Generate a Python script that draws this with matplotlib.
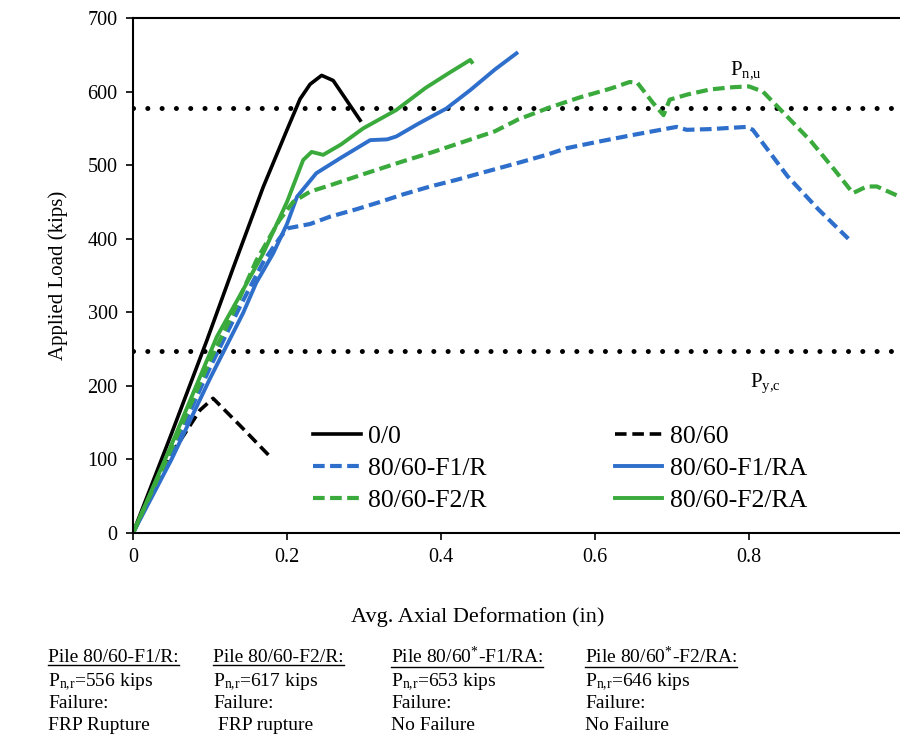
import matplotlib
matplotlib.use('Agg')
import matplotlib.pyplot as plt
from matplotlib.lines import Line2D

plt.rcParams['font.family'] = ['Liberation Serif', 'DejaVu Serif']
plt.rcParams['mathtext.fontset'] = 'custom'
plt.rcParams['mathtext.rm'] = 'Liberation Serif'
plt.rcParams['mathtext.it'] = 'Liberation Serif:italic'

# data (deformation in inches, load in kips)
ctrl_x = [0, 0.05, 0.096, 0.13, 0.169, 0.2, 0.217, 0.23, 0.245, 0.26, 0.295]
ctrl_y = [0, 135, 262, 360, 470, 548, 590, 610, 622, 615, 561]

p8060_x = [0, 0.048, 0.087, 0.104, 0.14, 0.176]
p8060_y = [0, 104, 167, 183, 145, 106]

f1r_x = [0, 0.05, 0.1, 0.14, 0.17, 0.19, 0.2, 0.23, 0.256, 0.29, 0.321, 0.35, 0.386, 0.42,
         0.451, 0.5, 0.537, 0.563, 0.6, 0.649, 0.68, 0.706, 0.719, 0.75, 0.797, 0.805,
         0.85, 0.89, 0.929]
f1r_y = [0, 110, 225, 310, 370, 400, 414, 420, 430, 440, 450, 460, 471, 480,
         489, 503, 514, 523, 531, 541, 547, 552, 548, 549, 552, 548,
         485, 440, 400]

f1ra_x = [0, 0.05, 0.1, 0.143, 0.16, 0.182, 0.2, 0.213, 0.238, 0.27, 0.308, 0.33, 0.342,
          0.37, 0.407, 0.438, 0.47, 0.498]
f1ra_y = [0, 100, 210, 299, 340, 380, 420, 457, 489, 510, 534, 535, 539,
          556, 577, 602, 630, 652]

f2r_x = [0, 0.05, 0.1, 0.126, 0.16, 0.19, 0.208, 0.23, 0.26, 0.3, 0.35, 0.39, 0.43, 0.47,
         0.5, 0.54, 0.58, 0.62, 0.645, 0.655, 0.675, 0.689, 0.697, 0.72, 0.75, 0.78, 0.8,
         0.818, 0.845, 0.88, 0.91, 0.935, 0.953, 0.966, 0.996]
f2r_y = [0, 115, 235, 290, 370, 425, 450, 464, 474, 488, 505, 518, 532, 546,
         562, 578, 592, 604, 613, 612, 585, 568, 589, 596, 603, 606, 607,
         600, 571, 533, 495, 462, 471, 471, 457]

f2ra_x = [0, 0.05, 0.109, 0.14, 0.169, 0.2, 0.221, 0.232, 0.247, 0.27, 0.299, 0.342, 0.38,
          0.41, 0.438, 0.44]
f2ra_y = [0, 120, 267, 325, 380, 450, 507, 518, 514, 528, 550, 575, 605,
          625, 643, 640]

p_nu = 578
p_yc = 248

notes_head = ['Pile 80/60-F1/R:', 'Pile 80/60-F2/R:', 'Pile 80/60$^{*}$-F1/RA:', 'Pile 80/60$^{*}$-F2/RA:']
notes_load = ['P$_{\\rm n{,}r}$=556 kips', 'P$_{\\rm n{,}r}$=617 kips',
              'P$_{\\rm n{,}r}$=653 kips', 'P$_{\\rm n{,}r}$=646 kips']
notes_fail = ['FRP Rupture', ' FRP rupture', 'No Failure', 'No Failure']
notes_xpx = [48, 213, 391, 585]

blue = '#2f6fcc'
green = '#3aaa3c'

W, H = 900, 735
fig = plt.figure(figsize=(9, 7.35), dpi=100)
ax = fig.add_axes([133 / W, 1 - 533 / H, 767 / W, 515 / H])

dash_k = (0, (3.2, 1.6))
dash_c = (0, (2.8, 1.3))
h1, = ax.plot(ctrl_x, ctrl_y, color='black', lw=2.6, label='0/0')
h2, = ax.plot(p8060_x, p8060_y, color='black', lw=2.6, linestyle=dash_k, label='80/60')
h3, = ax.plot(f1r_x, f1r_y, color=blue, lw=3, linestyle=dash_c, label='80/60-F1/R')
h4, = ax.plot(f1ra_x, f1ra_y, color=blue, lw=2.8, label='80/60-F1/RA')
h5, = ax.plot(f2r_x, f2r_y, color=green, lw=3, linestyle=dash_c, label='80/60-F2/R')
h6, = ax.plot(f2ra_x, f2ra_y, color=green, lw=2.8, label='80/60-F2/RA')

for yv in [p_nu, p_yc]:
    ax.axhline(yv, color='black', lw=3.6, linestyle=(0, (0.01, 2.85)), dash_capstyle='round', zorder=1)

ax.text(0.775, 629, 'P$_{\\rm n{,}u}$', fontsize=15, va='center', ha='left')
ax.text(0.801, 204, 'P$_{\\rm y{,}c}$', fontsize=15, va='center', ha='left')

ax.set_xlim(0, 767 / 770)
ax.set_ylim(0, 700)
ax.set_xticks([0, 0.2, 0.4, 0.6, 0.8])
ax.set_xticklabels(['0', '0.2', '0.4', '0.6', '0.8'])
ax.set_yticks(range(0, 701, 100))
ax.tick_params(direction='out', length=5, width=1.2, labelsize=14.5, pad=6)
ax.spines['right'].set_visible(False)
for s in ['left', 'bottom', 'top']:
    ax.spines[s].set_linewidth(1.5)

ax.set_ylabel('Applied Load (kips)', fontsize=15, labelpad=14)
ax.set_xlabel('Avg. Axial Deformation (in)', fontsize=16)
ax.xaxis.set_label_coords((478 - 133) / 767, -(607 - 533) / 515)

ax.legend([h1, h3, h5, h2, h4, h6],
          ['0/0', '80/60-F1/R', '80/60-F2/R', '80/60', '80/60-F1/RA', '80/60-F2/RA'],
          ncol=2, frameon=False, loc='upper left', fontsize=18.5,
          bbox_to_anchor=((313 - 133) / 767, (533 - 425) / 515), borderpad=0,
          handlelength=1.85, handletextpad=0.28, columnspacing=5.0, labelspacing=0.36,
          borderaxespad=0)

heads = []
for i in range(4):
    x = notes_xpx[i] / W
    t = fig.text(x, 1 - 657 / H, notes_head[i], fontsize=14, va='center', ha='left')
    heads.append(t)
    fig.text(x, 1 - 682 / H, notes_load[i], fontsize=14, va='center', ha='left')
    fig.text(x, 1 - 704 / H, 'Failure:', fontsize=14, va='center', ha='left')
    fig.text(x, 1 - 726 / H, notes_fail[i], fontsize=14, va='center', ha='left')

# underline the pile headings
fig.canvas.draw()
rend = fig.canvas.get_renderer()
for t in heads:
    bb = t.get_window_extent(renderer=rend)
    fig.add_artist(Line2D([bb.x0 / W, bb.x1 / W], [(bb.y0 + 0.5) / H] * 2,
                          transform=fig.transFigure, color='black', lw=1))

fig.savefig('out.png', dpi=100)
